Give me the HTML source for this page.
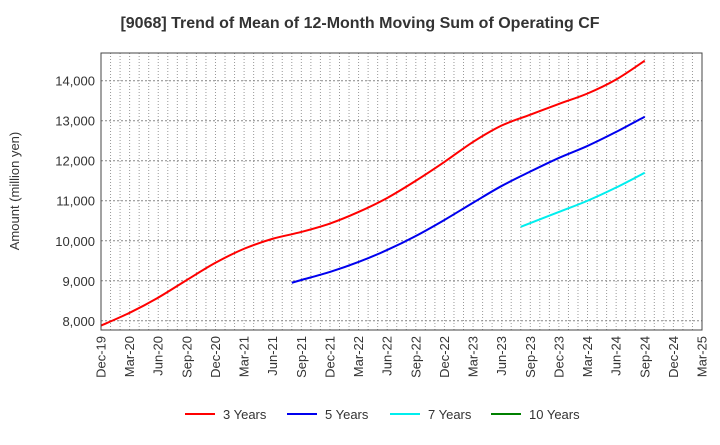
<!DOCTYPE html>
<html><head><meta charset="utf-8"><style>
body{margin:0;background:#fff;font-family:"Liberation Sans",sans-serif}
</style></head><body>
<svg id="c" width="720" height="440" xmlns="http://www.w3.org/2000/svg" font-family="Liberation Sans, sans-serif">
<text x="360" y="28" text-anchor="middle" font-size="16" font-weight="bold" fill="#333">[9068]  Trend of Mean of 12-Month Moving Sum of Operating CF</text>
<text transform="translate(19,191) rotate(-90)" text-anchor="middle" font-size="13" fill="#333">Amount (million yen)</text>
<g id="grid"></g><g id="series"></g><g id="axes"></g><g id="legend"></g>
</svg>
<script>
const xTickLabels=["Dec-19","Mar-20","Jun-20","Sep-20","Dec-20","Mar-21","Jun-21","Sep-21","Dec-21","Mar-22","Jun-22","Sep-22","Dec-22","Mar-23","Jun-23","Sep-23","Dec-23","Mar-24","Jun-24","Sep-24","Dec-24","Mar-25"];
const yTicks=[8000,9000,10000,11000,12000,13000,14000];
const y3Months=[0,3,6,9,12,15,18,21,24,27,30,33,36,39,42,45,48,51,54,57];
const y3Values=[7880,8200,8580,9020,9450,9800,10050,10220,10430,10720,11070,11500,11970,12470,12880,13150,13420,13680,14030,14500];
const y5Months=[20,21,24,27,30,33,36,39,42,45,48,51,54,57];
const y5Values=[8950,9020,9220,9470,9770,10120,10520,10950,11370,11730,12070,12370,12720,13100];
const y7Months=[44,48,51,54,57];
const y7Values=[10350,10720,11000,11330,11700];
const y10Months=[];const y10Values=[];
const L=101,R=702,T=53,B=330,yMin=7770,yMax=14692;
const xs=m=>L+m*(R-L)/63;
const ys=v=>B-(v-yMin)*(B-T)/(yMax-yMin);
const NS="http://www.w3.org/2000/svg";
function mk(t,a,p){const e=document.createElementNS(NS,t);for(const k in a)e.setAttribute(k,a[k]);p.appendChild(e);return e;}
const g=document.getElementById('grid'),ax=document.getElementById('axes'),s=document.getElementById('series'),lg=document.getElementById('legend');
for(let m=1;m<63;m++){const l=mk('line',{x1:xs(m),x2:xs(m),y1:T,y2:B,stroke:'#999','stroke-dasharray':'1,2','stroke-width':1},g);

}
yTicks.forEach(v=>{const l=mk('line',{x1:L,x2:R,y1:ys(v),y2:ys(v),stroke:'#888','stroke-dasharray':'2,2'},g);

});
const fr=mk('rect',{x:L,y:T,width:R-L,height:B-T,fill:'none',stroke:'#444','stroke-width':1},ax);


yTicks.forEach(v=>{const t=mk('text',{x:L-6,y:ys(v)+5,'text-anchor':'end','font-size':13,fill:'#333'},ax);t.textContent=v.toLocaleString('en-US');

});
xTickLabels.forEach((lb,i)=>{const x=xs(i*3);const t=mk('text',{transform:`translate(${x+4.5},${B+6}) rotate(-90)`,'text-anchor':'end','font-size':13,fill:'#333'},ax);t.textContent=lb;

});
function path(ms,vs){if(!ms.length)return'';const p=ms.map((m,i)=>[xs(m),ys(vs[i])]);let d=`M${p[0][0]},${p[0][1]}`;
for(let i=0;i<p.length-1;i++){const p0=p[i-1]||p[i],p1=p[i],p2=p[i+1],p3=p[i+2]||p2;
d+=` C${p1[0]+(p2[0]-p0[0])/6},${p1[1]+(p2[1]-p0[1])/6} ${p2[0]-(p3[0]-p1[0])/6},${p2[1]-(p3[1]-p1[1])/6} ${p2[0]},${p2[1]}`;}return d;}
const ser=[["3 Years",y3Months,y3Values,"#ff0000","series-3-years"],["5 Years",y5Months,y5Values,"#0000ee","series-5-years"],["7 Years",y7Months,y7Values,"#00eeee","series-7-years"],["10 Years",y10Months,y10Values,"#008000","series-10-years"]];
const lx=[185,287,390,491];
ser.forEach((r,i)=>{if(r[1].length){const p=mk('path',{d:path(r[1],r[2]),fill:'none',stroke:r[3],'stroke-width':2},s);

}
const l=mk('line',{x1:lx[i],x2:lx[i]+30,y1:414,y2:414,stroke:r[3],'stroke-width':2},lg);


const t=mk('text',{x:lx[i]+38,y:419,'font-size':13,fill:'#333'},lg);t.textContent=r[0];

});
</script>
</body></html>
